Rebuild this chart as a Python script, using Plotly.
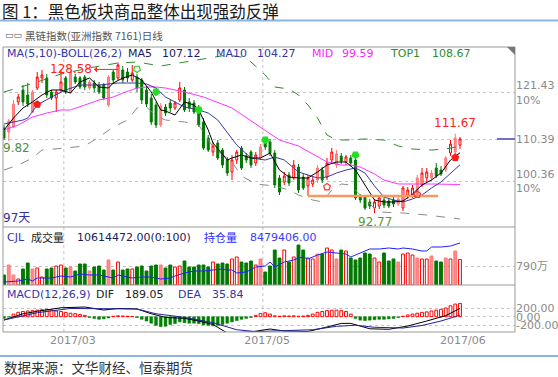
import plotly.graph_objects as go

W, H = 558, 377
NUM = "DejaVu Sans, Noto Sans CJK SC"
CJK = "Noto Sans CJK SC, DejaVu Sans"

# ---------------- text ----------------
title = "图 1：黑色板块商品整体出现强劲反弹"
subtitle = "黑链指数(亚洲指数 7161)日线"
source = "数据来源：文华财经、恒泰期货"

month_labels = ["2017/03", "2017/05", "2017/06"]
month_label_pos = [14.5, 55.4, 96.6]
month_grid_pos = [12.6, 54.5]

# ---------------- candles (97 trading days) ----------------
kinds = list("gpprggprrg" "grrgpgggpg" "ggpgrggrgg" "gggpggrrgg" "ggggrgggrr"
             "gggrpggggr" "grggrrpgrr" "pgrgggggrr" "gggprrrprr" "pggprpr")

opens = [113.00,112.05,113.24,119.18,122.03,120.84,116.80,122.50,124.88,124.88,
         121.55,120.13,122.03,124.88,121.55,125.11,124.88,125.11,122.50,123.69,
         123.21,123.21,118.46,126.30,124.88,126.78,126.30,124.40,125.11,124.40,
         122.03,120.13,118.46,113.71,117.99,118.94,117.75,119.65,122.03,119.18,
         118.94,117.75,114.43,110.63,107.30,109.44,107.78,105.40,102.55,105.40,
         108.25,106.35,107.30,104.69,105.88,110.15,109.68,107.06,101.13,100.18,
         101.84,101.13,103.74,101.36,99.23,99.70,100.65,103.03,101.36,105.40,
         104.21,106.35,104.93,105.88,105.40,96.85,96.61,95.43,94.00,94.48,
         95.90,95.66,95.90,94.95,94.00,96.85,97.09,97.09,99.46,101.13,
         101.13,103.50,103.03,103.03,107.06,107.30,108.96]
highs = [113.71,115.14,119.65,121.08,123.21,123.69,122.03,126.30,126.78,125.83,
         122.03,122.03,126.78,125.35,126.78,125.83,125.35,125.59,124.40,124.40,
         123.93,123.69,125.59,126.78,128.58,127.73,127.25,127.96,125.83,124.88,
         122.98,121.08,119.18,118.94,118.70,119.65,119.41,123.93,122.74,120.13,
         119.65,118.46,115.38,111.34,109.68,110.15,108.25,106.11,106.59,107.78,
         108.73,107.06,107.78,107.30,109.20,110.86,110.39,107.78,101.84,102.55,
         102.55,105.40,104.45,102.08,101.84,101.36,104.21,103.74,105.88,108.25,
         107.78,107.06,106.59,106.59,106.59,97.33,97.09,96.14,96.14,97.09,
         96.61,96.38,96.61,96.85,99.23,98.99,99.46,101.84,103.50,103.50,
         103.03,104.69,103.98,106.35,110.15,111.67,110.86]
lows = [110.15,109.91,113.00,118.46,118.23,117.99,116.56,122.03,123.69,120.13,
        119.65,116.80,121.55,121.08,121.08,123.45,122.26,122.03,122.03,121.55,
        121.08,119.65,117.99,123.45,124.40,123.69,123.93,123.93,121.55,118.70,
        117.99,113.71,113.00,113.24,115.85,116.80,117.28,119.18,116.80,116.80,
        116.33,113.24,107.78,107.30,106.35,105.40,103.50,101.60,100.65,104.45,
        103.03,104.69,103.50,103.98,105.40,107.78,106.35,98.75,97.09,99.46,
        99.23,100.65,97.56,98.28,96.85,98.99,99.94,99.94,100.65,104.69,
        103.50,104.45,104.21,103.98,95.90,95.19,93.53,93.76,92.77,93.76,
        94.00,94.00,94.24,94.48,93.29,96.14,96.38,96.61,98.99,100.18,
        100.41,101.13,101.60,102.55,106.35,106.59,108.01]
closes = [110.63,114.66,118.70,120.36,119.18,118.70,121.55,125.11,125.59,120.84,
          120.13,121.55,123.93,121.55,126.30,123.93,122.74,122.74,123.93,122.50,
          121.55,120.13,125.11,124.40,127.96,124.40,124.88,126.06,122.50,119.65,
          118.70,114.43,113.71,118.23,116.56,117.75,118.94,122.50,117.28,117.75,
          116.80,113.71,108.25,107.78,108.73,105.88,104.21,102.31,105.40,107.30,
          103.50,105.40,104.21,106.59,108.49,108.49,107.06,99.46,97.80,101.60,
          99.94,104.21,98.28,98.75,101.13,100.65,103.50,100.65,104.69,107.30,
          106.83,105.16,106.11,104.69,96.38,95.90,94.00,94.48,95.43,96.38,
          94.71,94.48,94.95,96.14,98.75,98.28,98.75,101.13,102.31,102.55,
          102.31,101.60,102.08,105.88,109.20,110.63,110.39]

# volume (万手)
volumes = [416,832,416,250,666,915,666,707,333,666,
           707,790,832,707,749,582,874,874,582,749,
           790,624,1040,624,957,624,666,666,749,790,
           582,790,832,832,707,832,749,790,998,749,
           749,832,832,749,957,874,915,874,1082,1165,
           957,915,998,832,1082,541,790,1456,1123,1456,
           957,1165,1664,1456,1123,1082,1290,1290,1539,1456,
           1082,1456,1414,1123,1040,1123,1331,1290,1123,957,
           1331,998,1082,957,1290,1331,1248,1123,1082,1082,
           1206,998,957,1123,1082,1414,1061.45]

# open interest (万手)
oi_x = [0,3,5,6,7,10,12,14,16,18,20,22,23,24,26,27,29,31,33,35,36,38,40,42,44,46,47,48,49,51,
        53,55,56,57,59,61,62,63,64,66,68,70,71,72,73,75,77,79,81,83,84,86,88,89,90,92,94,96]
oi_v = [697.7,701.6,709.3,701.6,713.1,713.1,720.8,717.0,728.5,724.7,724.7,717.0,713.1,724.7,717.0,
        713.1,717.0,717.0,709.3,713.1,720.8,732.4,740.1,740.1,743.9,747.8,743.9,743.9,732.4,736.2,
        755.5,759.3,774.7,755.5,774.7,782.4,790.1,794.0,786.3,801.7,813.2,809.4,809.4,805.5,794.0,
        809.4,824.8,824.8,828.6,824.8,828.6,824.8,817.1,817.1,832.5,832.5,836.3,847.94]

# MA / BOLL lines
ma5_x = [0,2,4,6,8,10,12,14,16,18,20,22,23,25,27,29,31,33,34,36,38,40,41,43,44,46,47,48,50,52,
         54,56,58,60,62,64,66,68,70,72,74,76,78,80,82,84,86,88,90,92,94,96]
ma5_v = [112.53,115.38,117.75,119.18,120.84,122.03,122.03,121.31,123.93,124.88,
         122.74,122.50,123.69,124.88,125.59,124.40,121.55,117.28,117.04,116.09,
         119.18,118.46,117.28,112.53,109.44,106.59,105.40,105.88,106.59,105.88,
         105.88,107.06,103.03,101.36,101.13,101.13,102.55,104.21,104.93,104.93,
         103.03,99.46,95.90,95.43,95.43,95.66,97.33,99.46,100.65,102.31,105.40,107.12]
ma10_x = [0,2,4,5,7,10,13,16,20,24,28,30,32,34,36,38,41,43,45,47,49,52,55,57,59,62,66,68,70,72,
          74,76,78,80,82,84,86,88,90,92,94,96]
ma10_v = [113.95,114.43,114.90,115.38,118.46,120.36,122.03,123.21,123.21,123.69,
          123.69,123.45,122.50,120.36,119.18,117.99,117.28,116.56,114.90,112.05,
          108.96,105.88,105.40,106.11,105.40,102.55,101.13,101.36,102.31,103.03,
          103.50,102.31,99.23,96.61,95.90,95.43,96.14,97.09,98.75,100.18,102.31,104.27]
mid_x = [0,3,6,9,12,14,17,20,23,25,28,30,32,34,38,42,48,55,58,62,66,68,71,73,75,78,80,83,90,93,96]
mid_v = [112.53,113.71,115.61,116.56,117.28,117.28,118.46,119.65,120.36,121.31,
         122.50,122.74,122.74,122.50,121.55,120.36,117.75,112.53,110.15,108.73,
         106.11,104.93,104.21,104.21,103.74,102.08,100.65,99.70,99.70,99.70,99.59]
top_x = [0,3,7,12,19,24,28,33,37,43,47,50,52,55,57,60,62,64,66,68,70,72,76,80,83,86,90,93,96]
top_v = [121.55,122.50,123.93,125.83,127.49,128.44,128.68,127.73,128.44,129.63,
         130.34,129.86,128.68,125.59,122.74,122.26,120.84,118.46,115.38,111.34,
         110.15,110.15,110.39,110.15,108.73,108.01,107.78,108.01,108.67]
bot_x = [0,3,6,8,13,17,20,23,26,28,30,32,34,38,41,44,48,50,53,57,60,62,65,67,69,71,73,76,79,84,89,93,96]
bot_v = [103.03,104.21,105.88,107.78,108.25,108.73,110.86,113.24,114.90,117.75,
         117.99,115.85,114.90,114.43,113.71,108.49,104.93,101.60,99.70,99.23,
         98.28,97.09,95.90,95.43,98.28,99.70,99.46,95.90,93.05,92.81,92.34,91.86,91.39]

# MACD
macd_hist = [-40,-10,60,100,120,130,140,150,160,170,
             150,130,120,100,80,70,50,30,-20,-40,
             -60,-50,-30,10,20,15,10,5,-20,-60,
             -100,-150,-200,-230,-220,-180,-160,-120,-140,-150,
             -150,-160,-190,-200,-210,-200,-180,-150,-120,-90,
             -60,-40,-20,30,70,90,60,20,10,20,
             15,20,10,15,30,60,100,120,140,150,
             150,140,120,60,-40,-80,-90,-80,-70,-60,
             -60,-50,-40,-20,10,40,60,80,100,110,
             130,150,170,200,250,290,306]
dif_x = [0,4,7,12,17,21,24,28,31,34,38,41,44,47,52,56,59,64,68,71,73,77,81,85,89,93,96]
dif_v = [-76,67,124,205,223,154,189,178,67,-16,-39,-99,-179,-375,-350,-283,-330,-340,-237,-154,
         -154,-278,-290,-214,-99,25,189.05]
dea_x = [0,7,14,22,28,32,38,44,49,53,59,65,70,74,78,84,88,92,96]
dea_v = [-76,92,189,178,178,67,-16,-138,-300,-342,-320,-300,-221,-196,-244,-260,-202,-99,35.84]

# signals / drawings
sig_down_open_x, sig_down_open_y = [28], [127.0]
sig_down_fill_x, sig_down_fill_y = [32, 41, 55, 74], [121.55, 117.28, 110.15, 106.6]
sig_up_fill_x, sig_up_fill_y = [7, 95], [118.6, 106.0]
sig_up_open_x, sig_up_open_y = [68, 87], [99.0, 97.2]
support_level = 96.85
support_span = [64, 91.4]

legend_main = [("MA(5,10)-BOLL(26,2)", "#3535a8"), ("MA5", "#1c1c5c"), ("107.12", "#1c1c5c"),
               ("MA10", "#3535a8"), ("104.27", "#3535a8"), ("MID", "#ff22ff"), ("99.59", "#ff22ff"),
               ("TOP1", "#2e8b2e"), ("108.67", "#2e8b2e")]
legend_vol = [("CJL", "#3535a8"), ("成交量", "#222222"), ("10614472.00(0:100)", "#1c1c5c"),
              ("持仓量", "#2a2aff"), ("8479406.00", "#3a3aff")]
legend_macd = [("MACD(12,26,9)", "#3535a8"), ("DIF", "#222222"), ("189.05", "#222222"),
               ("DEA", "#3535a8"), ("35.84", "#3535a8")]

# ---------------- geometry (pixels) ----------------
L, R = 3, 515
TOP, SEP1, SEP2, BOT = 47, 227, 285, 332
xr = [-0.21, -0.21 + (R - L) / 4.75]


def px(x):
    return x / W


def py(y):
    return 1 - y / H


STY = {"r": ("#ff0000", "#ffffff"), "p": ("#ff7878", "#ff8a8a"), "g": ("#007800", "#007800")}
idx = list(range(len(closes)))

fig = go.Figure()

# candles
for k in "rpg":
    ii = [i for i in idx if kinds[i] == k]
    lc, fc = STY[k]
    fig.add_trace(go.Candlestick(
        x=ii, open=[opens[i] for i in ii], high=[highs[i] for i in ii],
        low=[lows[i] for i in ii], close=[closes[i] for i in ii],
        increasing=dict(line=dict(color=lc, width=1), fillcolor=fc),
        decreasing=dict(line=dict(color=lc, width=1), fillcolor=fc),
        whiskerwidth=0, xaxis="x", yaxis="y", hoverinfo="skip"))

# MA / BOLL
for xs, ys, col, dash in [(bot_x, bot_v, "#8a8a8a", "dash"), (top_x, top_v, "#2e8b2e", "dash"),
                          (mid_x, mid_v, "#ff33ff", "solid"), (ma10_x, ma10_v, "#3a3aa0", "solid"),
                          (ma5_x, ma5_v, "#000000", "solid")]:
    fig.add_trace(go.Scatter(x=xs, y=ys, mode="lines", line=dict(color=col, width=1, dash=dash),
                             xaxis="x", yaxis="y", hoverinfo="skip"))

# support line
fig.add_trace(go.Scatter(x=support_span, y=[support_level, support_level], mode="lines",
                         line=dict(color="#f59a5b", width=2.5), xaxis="x", yaxis="y", hoverinfo="skip"))

# signals
for xs, ys, sym, ang, col in [
        (sig_down_open_x, sig_down_open_y, "pentagon-open", 180, "#22cc22"),
        (sig_down_fill_x, sig_down_fill_y, "pentagon", 180, "#22dd22"),
        (sig_up_fill_x, sig_up_fill_y, "pentagon", 0, "#ff1a1a"),
        (sig_up_open_x, sig_up_open_y, "pentagon-open", 0, "#ff3030")]:
    fig.add_trace(go.Scatter(x=xs, y=ys, mode="markers",
                             marker=dict(symbol=sym, angle=ang, size=7, color=col,
                                         line=dict(color=col, width=1.2)),
                             xaxis="x", yaxis="y", hoverinfo="skip"))

# volume
for k in "rpg":
    ii = [i for i in idx if kinds[i] == k]
    lc, fc = STY[k]
    fig.add_trace(go.Bar(x=ii, y=[volumes[i] for i in ii], width=0.6,
                         marker=dict(color=fc, line=dict(color=lc, width=1)),
                         xaxis="x2", yaxis="y2", hoverinfo="skip"))
fig.add_trace(go.Scatter(x=oi_x, y=oi_v, mode="lines", line=dict(color="#1f1fff", width=1),
                         xaxis="x2", yaxis="y4", hoverinfo="skip"))

# MACD
pos = [i for i in idx if macd_hist[i] >= 0]
neg = [i for i in idx if macd_hist[i] < 0]
fig.add_trace(go.Bar(x=pos, y=[macd_hist[i] for i in pos], width=0.6,
                     marker=dict(color="#ffffff", line=dict(color="#ff0000", width=1)),
                     xaxis="x3", yaxis="y3", hoverinfo="skip"))
fig.add_trace(go.Bar(x=neg, y=[macd_hist[i] for i in neg], width=0.6,
                     marker=dict(color="#008000", line=dict(color="#008000", width=0.5)),
                     xaxis="x3", yaxis="y3", hoverinfo="skip"))
fig.add_trace(go.Scatter(x=dif_x, y=dif_v, mode="lines", line=dict(color="#000000", width=1),
                         xaxis="x3", yaxis="y3", hoverinfo="skip"))
fig.add_trace(go.Scatter(x=dea_x, y=dea_v, mode="lines", line=dict(color="#2020a0", width=1),
                         xaxis="x3", yaxis="y3", hoverinfo="skip"))

GRID = dict(showgrid=True, gridcolor="#c4c4c4", griddash="dot", gridwidth=1, zeroline=False,
            ticks="", side="right", tickfont=dict(family=NUM, size=11, color="#8a8a8a"))
XAX = dict(domain=[px(L), px(R)], range=xr, showgrid=False, zeroline=False, fixedrange=True)

fig.update_layout(
    width=W, height=H, margin=dict(l=0, r=0, t=0, b=0),
    paper_bgcolor="white", plot_bgcolor="white", showlegend=False,
    barmode="overlay", hovermode=False, boxgap=0.42,
    xaxis=dict(XAX, anchor="y", showticklabels=False, rangeslider=dict(visible=False)),
    xaxis2=dict(XAX, anchor="y2", showticklabels=False),
    xaxis3=dict(XAX, anchor="y3", tickvals=month_label_pos, ticktext=month_labels, ticks="",
                tickfont=dict(family=NUM, size=11, color="#8a8a8a")),
    yaxis=dict(GRID, domain=[py(SEP1), py(TOP)], range=[89.49, 132.24], anchor="x",
               tickvals=[100.36, 110.39, 121.43],
               ticktext=["100.36<br>10%", "110.39", "121.43<br>10%"]),
    yaxis2=dict(GRID, domain=[py(SEP2), py(SEP1)], range=[0, 2413], anchor="x2",
                tickvals=[790], ticktext=["790万"]),
    yaxis3=dict(GRID, domain=[py(BOT), py(SEP2)], range=[-352, 729], anchor="x3",
                tickvals=[-200, 0, 200], ticktext=["-200.00", "0.00", "200.00"]),
    yaxis4=dict(domain=[py(SEP2), py(SEP1)], range=[686.2, 909.5], anchor="x2",
                overlaying="y2", visible=False),
)

shapes = []
# month grid lines through all panels
for g in month_grid_pos:
    shapes.append(dict(type="line", xref="x", yref="paper", x0=g, x1=g, y0=py(BOT), y1=py(TOP),
                       line=dict(color="#c4c4c4", width=1, dash="dot"), layer="below"))
# frame
shapes.append(dict(type="rect", xref="paper", yref="paper", x0=px(L), x1=px(R), y0=py(BOT), y1=py(TOP),
                   line=dict(color="#9a9a9a", width=1)))
for s in (SEP1, SEP2):
    shapes.append(dict(type="line", xref="paper", yref="paper", x0=px(L), x1=px(R), y0=py(s), y1=py(s),
                       line=dict(color="#9a9a9a", width=1)))
shapes.append(dict(type="path", xref="paper", yref="paper",
                   path=f"M {px(507)} {py(47)} L {px(515)} {py(47)} L {px(515)} {py(55)} Z",
                   fillcolor="#777777", line=dict(width=0)))
# current price marker
shapes.append(dict(type="line", xref="paper", yref="y", x0=px(497), x1=px(R), y0=closes[-1], y1=closes[-1],
                   line=dict(color="#7070c8", width=2)))
# page rules
for yy in (20.5, 356):
    shapes.append(dict(type="line", xref="paper", yref="paper", x0=0, x1=1, y0=py(yy), y1=py(yy),
                       line=dict(color="#8db3e2", width=2)))
fig.update_layout(shapes=shapes)


def txt(x, y, s, color, size=11, family=NUM, xanchor="left"):
    fig.add_annotation(x=px(x), y=py(y), xref="paper", yref="paper", text=s, showarrow=False,
                       xanchor=xanchor, yanchor="middle", borderpad=0,
                       font=dict(family=family, size=size, color=color))


txt(1, 11, title, "#1a1a1a", 16.5, CJK)
txt(4, 35, "▭▭", "#555555", 9, NUM)
txt(24, 35, subtitle, "#555555", 10.5, CJK)
txt(3, 367, source, "#333333", 13.5, CJK)

for (s, c), x in zip(legend_main, [6, 127, 161, 215, 256, 311, 341, 389, 431]):
    txt(x, 53, s, c, 11)
for (s, c), x in zip(legend_vol, [6, 30, 76, 203, 249]):
    txt(x, 237, s, c, 11, NUM if s[0].isascii() else CJK)
for (s, c), x in zip(legend_macd, [6, 95, 124, 177, 211]):
    txt(x, 294, s, c, 11)

txt(2, 148, "9.82", "#4f8f3f", 12)
txt(2, 218, "97天", "#333399", 12, NUM)

# extreme labels
hi_i = highs.index(max(highs))
lo_i = lows.index(min(lows))
fig.add_annotation(x=hi_i, y=highs[hi_i], xref="x", yref="y", text=f"{highs[hi_i]:.2f}",
                   showarrow=True, ax=-24, ay=0, axref="pixel", ayref="pixel", arrowside="start",
                   arrowhead=2, arrowsize=0.9, arrowwidth=1, arrowcolor="#ff2020",
                   xanchor="right", yshift=-7, font=dict(family=NUM, size=12, color="#ff2020"))
fig.add_annotation(x=95, y=highs[95], xref="x", yref="y", text=f"{highs[95]:.2f}", showarrow=False,
                   yanchor="bottom", yshift=2, font=dict(family=NUM, size=12, color="#ff2020"))
fig.add_annotation(x=lo_i, y=lows[lo_i], xref="x", yref="y", text=f"{lows[lo_i]:.2f}", showarrow=False,
                   yanchor="top", yshift=0, font=dict(family=NUM, size=12, color="#5a9a2a"))

fig.write_html("out.html", config={"displayModeBar": False},
               post_script="document.body.style.margin='0';document.body.style.padding='0';")
